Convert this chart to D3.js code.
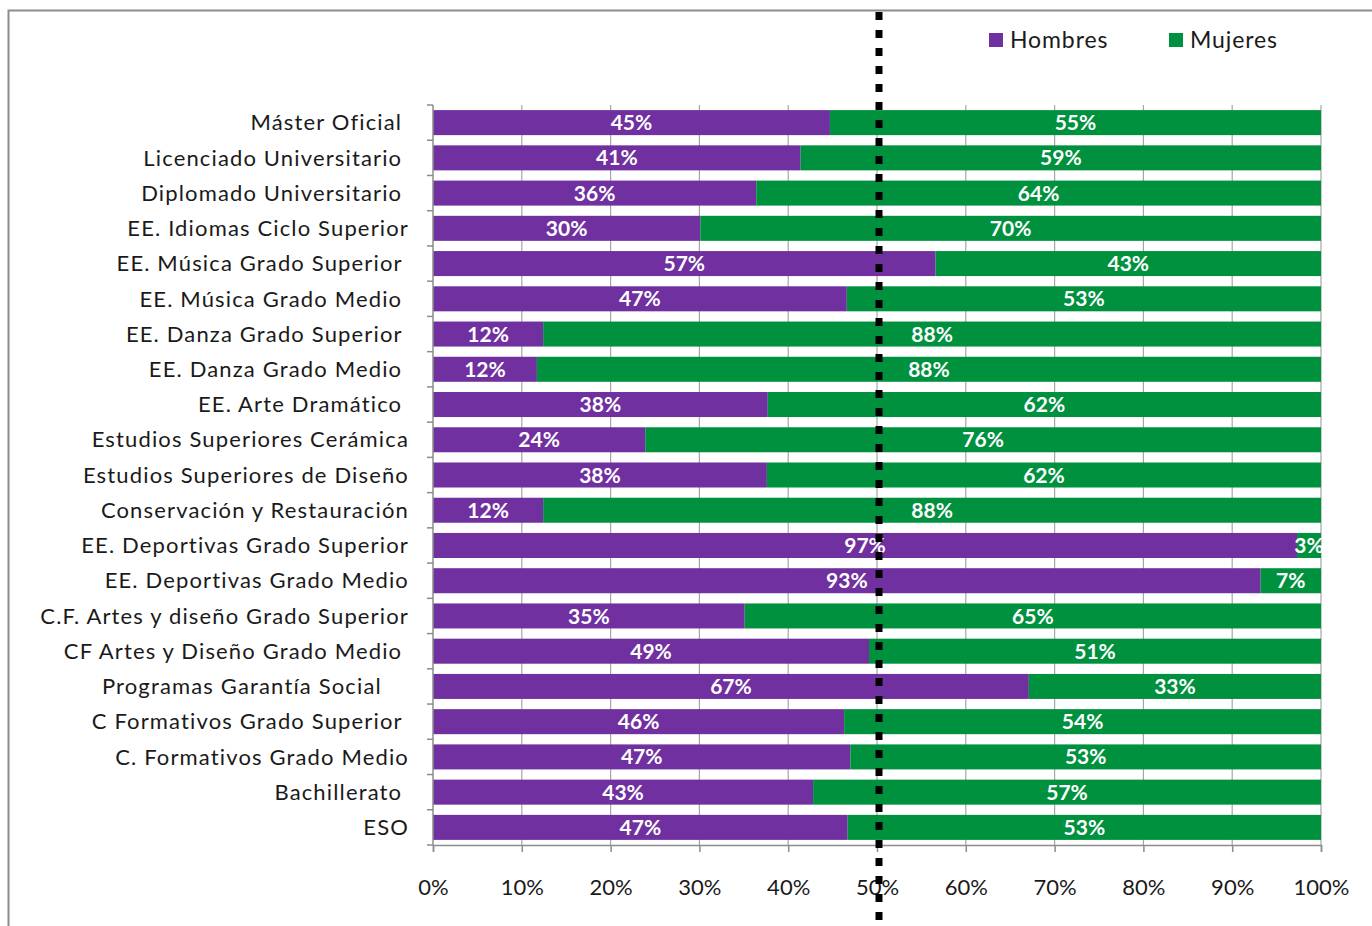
<!DOCTYPE html>
<html><head><meta charset="utf-8">
<script src="https://cdn.jsdelivr.net/npm/d3@7/dist/d3.min.js"></script>
<style>
html,body{margin:0;padding:0;background:#fff;}
svg text{font-family:Lato,"Open Sans",sans-serif;white-space:pre;}
</style></head>
<body>
<svg id="chart" width="1372" height="926"></svg>
<script>
const categories = ["Máster Oficial ","Licenciado Universitario ","Diplomado Universitario ","EE. Idiomas Ciclo Superior","EE. Música Grado Superior ","EE. Música Grado Medio ","EE. Danza Grado Superior ","EE. Danza Grado Medio ","EE. Arte Dramático ","Estudios Superiores Cerámica","Estudios Superiores de Diseño","Conservación y Restauración","EE. Deportivas Grado Superior","EE. Deportivas Grado Medio","C.F. Artes y diseño Grado Superior","CF Artes y Diseño Grado Medio ","Programas Garantía Social    ","C Formativos Grado Superior ","C. Formativos Grado Medio","Bachillerato ","ESO"];
const hombres = [44.7,41.4,36.4,30.1,56.6,46.6,12.4,11.7,37.7,23.9,37.6,12.4,97.3,93.2,35.1,49.1,67.1,46.3,47.0,42.8,46.7];
const mujeres = [55.3,58.6,63.6,69.9,43.4,53.4,87.6,88.3,62.3,76.1,62.4,87.6,2.7,6.8,64.9,50.9,32.9,53.7,53.0,57.2,53.3];
const seriesNames = ["Hombres","Mujeres"];
const colors = ["#7030A0","#00913F"];
const xTicks = [0,10,20,30,40,50,60,70,80,90,100];
const refLine = 50;

const svg = d3.select("#chart");
const x = d3.scaleLinear().domain([0,100]).range([433,1321]);
const y = d3.scaleBand().domain(categories).range([105,845]).paddingInner(0.29).paddingOuter(0.145);

// outer border
svg.append("path").attr("d","M8.5,926 V10.5 H1372").attr("fill","none").attr("stroke","#8c8c8c").attr("stroke-width",2);

// gridlines
svg.append("g").selectAll("line").data(xTicks.slice(1)).join("line")
  .attr("x1",d=>x(d)).attr("x2",d=>x(d)).attr("y1",105).attr("y2",845)
  .attr("stroke","#a6a6a6").attr("stroke-width",1.2);

// bars
const rows = categories.map((c,i)=>({c, h:hombres[i], m:mujeres[i]}));
const g = svg.append("g");
g.selectAll("rect.h").data(rows).join("rect").attr("class","h")
  .attr("x",x(0)).attr("y",d=>y(d.c)).attr("width",d=>x(d.h)-x(0)).attr("height",y.bandwidth()).attr("fill",colors[0]);
g.selectAll("rect.m").data(rows).join("rect").attr("class","m")
  .attr("x",d=>x(d.h)).attr("y",d=>y(d.c)).attr("width",d=>x(d.h+d.m)-x(d.h)).attr("height",y.bandwidth()).attr("fill",colors[1]);

// data labels
const lbl = svg.append("g").attr("font-weight","bold").attr("font-size",21).attr("fill","#fff").attr("text-anchor","middle");
lbl.selectAll("text.h").data(rows).join("text")
  .attr("x",d=>x(d.h/2)).attr("y",d=>y(d.c)+y.bandwidth()/2).attr("dy","0.36em").text(d=>Math.round(d.h)+"%");
lbl.selectAll("text.m").data(rows).join("text")
  .attr("x",d=>x(d.h+d.m/2)).attr("y",d=>y(d.c)+y.bandwidth()/2).attr("dy","0.36em").text(d=>Math.round(d.m)+"%");

// axes
const xAxis = d3.axisBottom(x).tickValues(xTicks).tickFormat(d=>d+"%").tickSize(7).tickPadding(27);
const xa = svg.append("g").attr("transform","translate(0,845)").call(xAxis);
xa.select(".domain").attr("stroke","#8c8c8c").attr("stroke-width",1.5);
xa.selectAll(".tick line").attr("stroke","#8c8c8c").attr("stroke-width",1.5);
xa.selectAll("text").attr("font-size",22).attr("fill","#1a1a1a").attr("font-family","Lato");

// y axis with ticks at band boundaries
const ya = svg.append("g");
ya.append("line").attr("x1",433).attr("x2",433).attr("y1",105).attr("y2",845).attr("stroke","#8c8c8c").attr("stroke-width",1.5);
const bounds = d3.range(categories.length+1).map(i=>105+i*(740/categories.length));
ya.selectAll("line.t").data(bounds).join("line").attr("class","t")
  .attr("x1",427).attr("x2",433).attr("y1",d=>d).attr("y2",d=>d).attr("stroke","#8c8c8c").attr("stroke-width",1.5);
ya.selectAll("text").data(categories).join("text")
  .attr("x",409).attr("y",d=>y(d)+y.bandwidth()/2).attr("dy","0.35em")
  .attr("text-anchor","end").attr("font-size",22).attr("letter-spacing","1.15px").attr("fill","#1a1a1a").text(d=>d);

// reference dotted line
svg.append("line").attr("x1",x(refLine)+2).attr("x2",x(refLine)+2).attr("y1",12).attr("y2",926)
  .attr("stroke","#000").attr("stroke-width",7).attr("stroke-dasharray","8,10");

// legend
const leg = svg.append("g");
const legX = [989,1169];
seriesNames.forEach((s,i)=>{
  leg.append("rect").attr("x",legX[i]).attr("y",33).attr("width",14).attr("height",14).attr("fill",colors[i]);
  leg.append("text").attr("x",legX[i]+21).attr("y",40).attr("dy","0.36em").attr("font-size",23).attr("letter-spacing","0.9px").attr("fill","#1a1a1a").text(s);
});
</script>
</body></html>
